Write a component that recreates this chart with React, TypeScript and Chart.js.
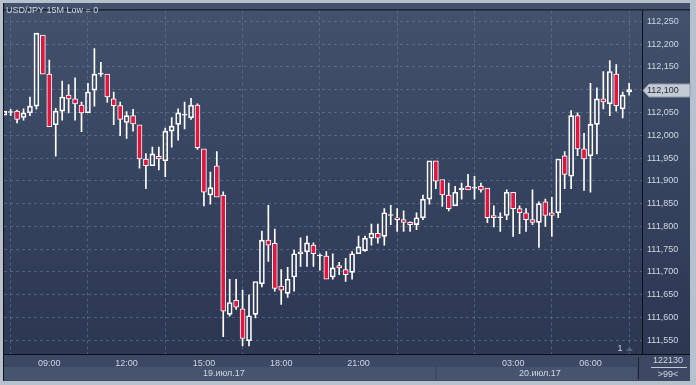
import React, { useEffect, useRef } from "react";
import { Chart, registerables } from "chart.js";

Chart.register(...registerables);

const TITLE = "USD/JPY 15M Low = 0";
const TIMES = (
  "07:15 07:30 07:45 08:00 08:15 08:30 08:45 09:00 09:15 09:30 09:45 10:00 10:15 10:30 10:45 " +
  "11:00 11:15 11:30 11:45 12:00 12:15 12:30 12:45 13:00 13:15 13:30 13:45 14:00 14:15 14:30 14:45 " +
  "15:00 15:15 15:30 15:45 16:00 16:15 16:30 16:45 17:00 17:15 17:30 17:45 18:00 18:15 18:30 18:45 " +
  "19:00 19:15 19:30 19:45 20:00 20:15 20:30 20:45 21:00 21:15 21:30 21:45 22:00 22:15 22:30 22:45 " +
  "23:00 23:15 23:30 23:45 00:00 00:15 00:30 00:45 01:00 01:15 01:30 01:45 02:00 02:15 02:30 02:45 " +
  "03:00 03:15 03:30 03:45 04:00 04:15 04:30 04:45 05:00 05:15 05:30 05:45 06:00 06:15 06:30 06:45 " +
  "07:00 07:15 07:30"
).split(" ");

const OPEN = [
  112.044, 112.050, 112.053, 112.039, 112.049, 112.064, 112.220, 112.134, 112.023, 112.053,
  112.088, 112.080, 112.066, 112.049, 112.099, 112.134, 112.134, 112.080, 112.065, 112.028,
  112.043, 112.023, 111.948, 111.933, 111.954, 111.944, 112.009, 112.024, 112.044, 112.038,
  112.066, 111.970, 111.869, 111.933, 111.869, 111.607, 111.638, 111.619, 111.549, 111.607,
  111.674, 111.770, 111.763, 111.669, 111.653, 111.689, 111.740, 111.744, 111.759, 111.735,
  111.735, 111.689, 111.714, 111.705, 111.699, 111.740, 111.747, 111.774, 111.785, 111.778,
  111.824, 111.819, 111.815, 111.809, 111.804, 111.819, 111.860, 111.944, 111.903, 111.869,
  111.845, 111.880, 111.888, 111.884, 111.888, 111.884, 111.824, 111.819, 111.824, 111.875,
  111.839, 111.830, 111.815, 111.809, 111.854, 111.830, 111.830, 111.955, 111.910, 112.043,
  111.970, 111.955, 112.024, 112.080, 112.069, 112.134, 112.058, 112.095,
];
const HIGH = [
  112.053, 112.057, 112.055, 112.058, 112.084, 112.224, 112.220, 112.165, 112.059, 112.119,
  112.111, 112.126, 112.073, 112.114, 112.190, 112.160, 112.134, 112.095, 112.073, 112.052,
  112.057, 112.023, 111.960, 111.974, 111.974, 112.016, 112.039, 112.058, 112.073, 112.081,
  112.069, 111.970, 111.919, 111.964, 111.876, 111.684, 111.684, 111.660, 111.650, 111.679,
  111.790, 111.846, 111.794, 111.705, 111.710, 111.748, 111.775, 111.779, 111.764, 111.740,
  111.745, 111.740, 111.721, 111.730, 111.745, 111.779, 111.779, 111.805, 111.805, 111.839,
  111.846, 111.839, 111.834, 111.810, 111.830, 111.869, 111.944, 111.944, 111.903, 111.895,
  111.888, 111.895, 111.914, 111.910, 111.895, 111.884, 111.845, 111.830, 111.880, 111.875,
  111.845, 111.839, 111.880, 111.854, 111.860, 111.864, 111.948, 111.964, 112.054, 112.049,
  112.004, 112.114, 112.104, 112.140, 112.164, 112.155, 112.095, 112.114,
];
const LOW = [
  112.044, 112.043, 112.027, 112.033, 112.043, 112.057, 112.134, 112.019, 111.954, 112.033,
  112.049, 112.033, 112.008, 112.049, 112.064, 112.129, 112.072, 112.023, 111.999, 111.993,
  112.009, 111.928, 111.883, 111.933, 111.924, 111.909, 111.974, 111.989, 112.014, 112.035,
  111.969, 111.845, 111.849, 111.864, 111.558, 111.603, 111.618, 111.538, 111.538, 111.599,
  111.667, 111.723, 111.658, 111.629, 111.644, 111.658, 111.712, 111.712, 111.712, 111.704,
  111.684, 111.684, 111.694, 111.679, 111.684, 111.740, 111.745, 111.759, 111.763, 111.759,
  111.804, 111.789, 111.789, 111.789, 111.793, 111.815, 111.849, 111.883, 111.844, 111.834,
  111.845, 111.860, 111.880, 111.860, 111.875, 111.808, 111.799, 111.789, 111.815, 111.778,
  111.784, 111.789, 111.804, 111.754, 111.800, 111.778, 111.819, 111.883, 111.883, 111.955,
  111.879, 111.875, 111.959, 112.058, 112.043, 112.053, 112.038, 112.088,
];
const CLOSE = [
  112.053, 112.050, 112.035, 112.049, 112.064, 112.224, 112.134, 112.019, 112.053, 112.084,
  112.080, 112.069, 112.049, 112.095, 112.134, 112.134, 112.084, 112.065, 112.035, 112.043,
  112.025, 111.948, 111.933, 111.959, 111.948, 112.009, 112.020, 112.049, 112.044, 112.066,
  111.973, 111.875, 111.885, 111.864, 111.614, 111.633, 111.623, 111.554, 111.604, 111.679,
  111.770, 111.759, 111.664, 111.660, 111.684, 111.740, 111.744, 111.764, 111.740, 111.735,
  111.684, 111.709, 111.709, 111.694, 111.740, 111.755, 111.774, 111.785, 111.774, 111.830,
  111.824, 111.815, 111.809, 111.804, 111.819, 111.860, 111.944, 111.899, 111.869, 111.839,
  111.875, 111.884, 111.880, 111.884, 111.880, 111.819, 111.819, 111.819, 111.875, 111.839,
  111.830, 111.815, 111.809, 111.850, 111.824, 111.824, 111.948, 111.914, 112.043, 111.970,
  111.948, 112.024, 112.080, 112.073, 112.140, 112.065, 112.088, 112.100,
];

const X_TICKS = [9, 12, 15, 18, 21, 24, 27, 30];
const X_TICK_LABELS = ["09:00", "12:00", "15:00", "18:00", "21:00", "", "03:00", "06:00"];
const Y_TICKS = [
  111.55, 111.6, 111.65, 111.7, 111.75, 111.8, 111.85, 111.9, 111.95, 112.0, 112.05, 112.1,
  112.15, 112.2, 112.25,
];
const DATES = ["19.июл.17", "20.июл.17"];
const DAY_BREAK = 24;
const FOOTER_TOP = "122130";
const FOOTER_BOTTOM = ">99<";
const PANE_NO = "1";

const W = 696;
const H = 385;
const RED = "#e3143d";
const TEXT = "#d0d7e3";
const FONT = "'Liberation Sans', Arial, sans-serif";

function toHours(list: string[]): number[] {
  let day = 0;
  let prev = -Infinity;
  return list.map((t) => {
    const [h, m] = t.split(":").map(Number);
    let v = h + m / 60 + day * 24;
    if (v < prev) {
      day += 1;
      v += 24;
    }
    prev = v;
    return v;
  });
}

const fmt = (v: number) => v.toFixed(3).replace(".", ",");

export default function App() {
  const ref = useRef<HTMLCanvasElement | null>(null);

  useEffect(() => {
    document.body.style.margin = "0";
    const canvas = ref.current;
    if (!canvas) return;
    const X = toHours(TIMES);

    const bodies = X.map((x, i) => ({ x, y: [OPEN[i], CLOSE[i]] }));
    const upper = X.map((x, i) => {
      const top = Math.max(OPEN[i], CLOSE[i]);
      return { x, y: HIGH[i] > top ? [top, HIGH[i]] : null };
    });
    const lower = X.map((x, i) => {
      const bot = Math.min(OPEN[i], CLOSE[i]);
      return { x, y: LOW[i] < bot ? [LOW[i], bot] : null };
    });
    const bodyFill = X.map((_, i) => (CLOSE[i] < OPEN[i] ? RED : "rgba(0,0,0,0)"));

    const framePlugin = {
      id: "frame",
      beforeDraw(chart: any) {
        const ctx = chart.ctx as CanvasRenderingContext2D;
        const { left, right, top, bottom } = chart.chartArea;
        const xs = chart.scales.x;
        ctx.save();
        ctx.fillStyle = "#b7c1ce";
        ctx.fillRect(0, 0, W, H);
        const g = ctx.createLinearGradient(0, top, 0, bottom);
        g.addColorStop(0, "#43516d");
        g.addColorStop(0.5, "#36435f");
        g.addColorStop(1, "#2c3752");
        ctx.fillStyle = g;
        ctx.fillRect(3, 3, 687, bottom - 3);
        ctx.fillStyle = "#3c4864";
        ctx.fillRect(3, bottom, 687, 381 - bottom);
        const brk = xs.getPixelForValue(DAY_BREAK);
        ctx.fillStyle = "#47546f";
        ctx.fillRect(left, 367, brk - left - 0.5, 13);
        ctx.fillRect(brk + 1, 367, 637 - brk - 1, 13);
        ctx.strokeStyle = "#0c1019";
        ctx.lineWidth = 1;
        ctx.beginPath();
        ctx.moveTo(3, top - 0.5);
        ctx.lineTo(690, top - 0.5);
        ctx.moveTo(3, bottom + 0.5);
        ctx.lineTo(690, bottom + 0.5);
        ctx.moveTo(left - 0.5, 3);
        ctx.lineTo(left - 0.5, 381);
        ctx.moveTo(right + 0.5, top);
        ctx.lineTo(right + 0.5, bottom);
        ctx.stroke();
        ctx.strokeStyle = "#1d2435";
        ctx.beginPath();
        ctx.moveTo(638.5, 357);
        ctx.lineTo(638.5, 379);
        ctx.stroke();
        ctx.restore();
      },
      afterDraw(chart: any) {
        const ctx = chart.ctx as CanvasRenderingContext2D;
        const { left, right, bottom } = chart.chartArea;
        const xs = chart.scales.x;
        const ys = chart.scales.y;
        ctx.save();
        ctx.font = `9px ${FONT}`;
        ctx.textBaseline = "middle";
        ctx.textAlign = "left";
        ctx.fillStyle = TEXT;
        ctx.fillText(TITLE, 6, 10.5);

        // last price tag
        const last = CLOSE[CLOSE.length - 1];
        const py = Math.round(ys.getPixelForValue(last)) + 0.5;
        ctx.beginPath();
        ctx.moveTo(right + 1, py);
        ctx.lineTo(right + 7, py - 6.5);
        ctx.lineTo(690, py - 6.5);
        ctx.lineTo(690, py + 6.5);
        ctx.lineTo(right + 7, py + 6.5);
        ctx.closePath();
        ctx.fillStyle = "#c5cbd4";
        ctx.fill();
        ctx.strokeStyle = "#8e98a8";
        ctx.stroke();
        ctx.fillStyle = "#1f2738";
        ctx.fillText(fmt(last), right + 5, py);

        // dates
        const brk = xs.getPixelForValue(DAY_BREAK);
        ctx.textAlign = "center";
        ctx.fillStyle = TEXT;
        ctx.fillText(DATES[0], (left + brk) / 2 + 4, 374);
        ctx.fillText(DATES[1], (brk + 638) / 2 + 3, 374);

        // pane number
        ctx.fillText(PANE_NO, 620, bottom - 5);
        ctx.fillStyle = "#59667f";
        ctx.beginPath();
        ctx.moveTo(626, bottom - 3);
        ctx.lineTo(629.5, bottom - 7);
        ctx.lineTo(633, bottom - 3);
        ctx.closePath();
        ctx.fill();

        // footer box
        ctx.fillStyle = TEXT;
        ctx.fillText(FOOTER_TOP, 668, 361);
        ctx.fillText(FOOTER_BOTTOM, 668, 375);
        ctx.strokeStyle = "#c3cad6";
        ctx.beginPath();
        ctx.moveTo(651, 367.5);
        ctx.lineTo(687, 367.5);
        ctx.stroke();
        ctx.restore();
      },
    };

    const gridColor = "rgba(112,128,162,0.55)";

    const chart = new Chart(canvas, {
      type: "bar",
      data: {
        datasets: [
          {
            data: bodies as any,
            backgroundColor: bodyFill,
            borderColor: "#ffffff",
            borderWidth: 1,
            borderSkipped: false,
            barThickness: 5,
            minBarLength: 1,
            grouped: false,
          } as any,
          {
            data: upper as any,
            backgroundColor: "#ffffff",
            borderWidth: 0,
            barThickness: 1,
            grouped: false,
          } as any,
          {
            data: lower as any,
            backgroundColor: "#ffffff",
            borderWidth: 0,
            barThickness: 1,
            grouped: false,
          } as any,
        ],
      },
      options: {
        animation: false,
        responsive: false,
        devicePixelRatio: 1,
        layout: { padding: { left: 4, top: 4, right: 0, bottom: 0 } },
        plugins: { legend: { display: false }, tooltip: { enabled: false } },
        scales: {
          x: {
            type: "linear",
            min: 7.242,
            max: 32.0,
            offset: false,
            grid: { color: gridColor, drawTicks: false },
            border: { display: false, dash: [3, 3] },
            ticks: {
              color: TEXT,
              font: { family: FONT, size: 9 },
              padding: 4,
              autoSkip: false,
              maxRotation: 0,
              callback: (v: any) => {
                const idx = X_TICKS.indexOf(Number(v));
                return idx >= 0 ? X_TICK_LABELS[idx] : "";
              },
            },
            afterBuildTicks: (s: any) => {
              s.ticks = X_TICKS.map((value) => ({ value }));
            },
            afterFit: (s: any) => {
              s.height = 31;
            },
          } as any,
          y: {
            type: "linear",
            position: "right",
            min: 111.52,
            max: 112.274,
            grid: { color: gridColor, drawTicks: false },
            border: { display: false, dash: [3, 3] },
            ticks: {
              color: TEXT,
              font: { family: FONT, size: 9 },
              padding: 5,
              callback: (v: any) => fmt(Number(v)),
            },
            afterBuildTicks: (s: any) => {
              s.ticks = Y_TICKS.map((value) => ({ value }));
            },
            afterFit: (s: any) => {
              s.width = 54;
            },
          } as any,
        },
      },
      plugins: [framePlugin],
    });

    return () => chart.destroy();
  }, []);

  return (
    <div style={{ width: W, height: H }}>
      <canvas ref={ref} width={W} height={H} style={{ display: "block", width: W, height: H }} />
    </div>
  );
}
